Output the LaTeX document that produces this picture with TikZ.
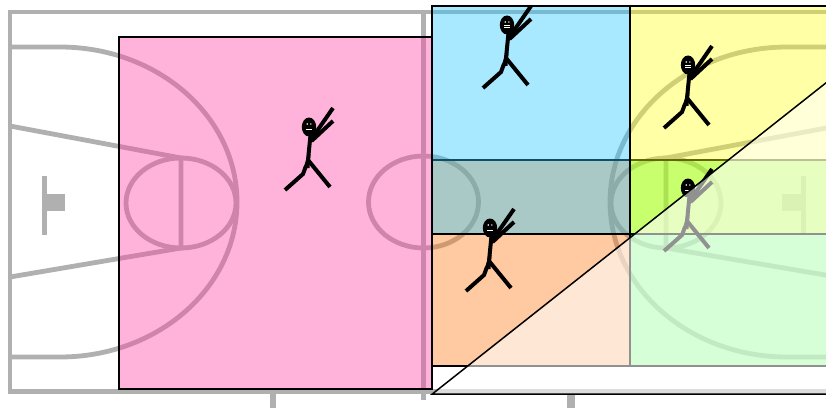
\documentclass[tikz,border=0pt]{standalone}
\begin{document}
\begin{tikzpicture}[x=1pt,y=-1pt,
  court/.style={draw=courtgray, line width=4.8pt},
  zone/.style={draw=black, line width=1.5pt, fill opacity=0.4},
  limb/.style={draw=black, line width=4pt},
  jumper/.pic={
    \draw[limb] (1.5,8) -- (-1.5,38);
    \fill (-1,27) -- (1.5,27) -- (0.5,41) -- (-5.5,41) -- cycle;
    \draw[limb] (-3,39) -- (-6,47) -- (-24,63);
    \draw[limb] (-1,33) -- (21,60);
    \draw[limb] (2.5,12) -- (24,-19);
    \draw[limb] (2.5,14) -- (24,-6);
    \fill (0,0) ellipse [x radius=7.2pt, y radius=9.5pt];
    \fill[white] (-1.8,-3) circle [radius=0.8pt] (1.8,-3) circle [radius=0.8pt];
    \fill[white] (-3,0.5) rectangle (3,2.6);
    \draw[black, line width=0.5pt] (-3,1.5) -- (3,1.5);
  }]
\definecolor{courtgray}{RGB}{176,176,176}
\definecolor{zonepink}{RGB}{255,67,167}
\definecolor{zonecyan}{RGB}{38,202,255}
\definecolor{zoneyellow}{RGB}{255,255,30}
\definecolor{zoneorange}{RGB}{255,120,20}
\definecolor{zonegreen}{RGB}{25,255,25}

\clip (0,0) rectangle (826,409);
\fill[white] (0,0) rectangle (826,409);

% ---- the court ----
\draw[court, line width=4.5pt] (10,12) rectangle (837,391.5);
\draw[court, line width=5pt] (423.5,12) -- (423.5,400);
\draw[court, line width=6pt] (273,391) -- (273,408);
\draw[court, line width=8pt] (571,391) -- (571,408);
\draw[court] (423.5,202) ellipse [x radius=55pt, y radius=46pt];
% left half
\draw[court] (10,47) -- (60,47) arc [start angle=90, end angle=-90, x radius=177pt, y radius=155pt] -- (10,357);
\draw[court] (10,126) -- (181,158) -- (181,248) -- (10,277);
\draw[court] (181,203) ellipse [x radius=55pt, y radius=45pt];
\draw[court, line width=5pt] (44,176) -- (44,235);
\fill[courtgray] (46,194) rectangle (65,211);
% right half
\draw[court] (837,47) -- (787,47) arc [start angle=90, end angle=270, x radius=177pt, y radius=155pt] -- (837,357);
\draw[court] (837,126) -- (666,158) -- (666,248) -- (837,277);
\draw[court] (666,203) ellipse [x radius=55pt, y radius=45pt];
\draw[court, line width=5pt] (803,176) -- (803,235);
\fill[courtgray] (782,194) rectangle (801,211);

% ---- zones ----
\path[zone, fill=zonepink] (119,37) rectangle (432,389);
\path[zone, fill=zoneorange] (432,160) rectangle (630,366);
\path[zone, fill=zonegreen] (630,160) rectangle (1000,366);
\path[zone, fill=zonecyan] (432,6) rectangle (630,234);
\path[zone, fill=zoneyellow] (630,6) rectangle (1000,234);

% ---- players ----
\pic at (309,127) {jumper};
\pic at (507,25) {jumper};
\pic at (688,65) {jumper};
\pic at (490,228) {jumper};
\pic at (688,188) {jumper};

% ---- faded wedge ----
\path[draw=black, line width=1.5pt, fill=white, fill opacity=0.57]
  (432.3,394) -- (1000,-54.7) -- (1000,394) -- cycle;
\end{tikzpicture}
\end{document}
